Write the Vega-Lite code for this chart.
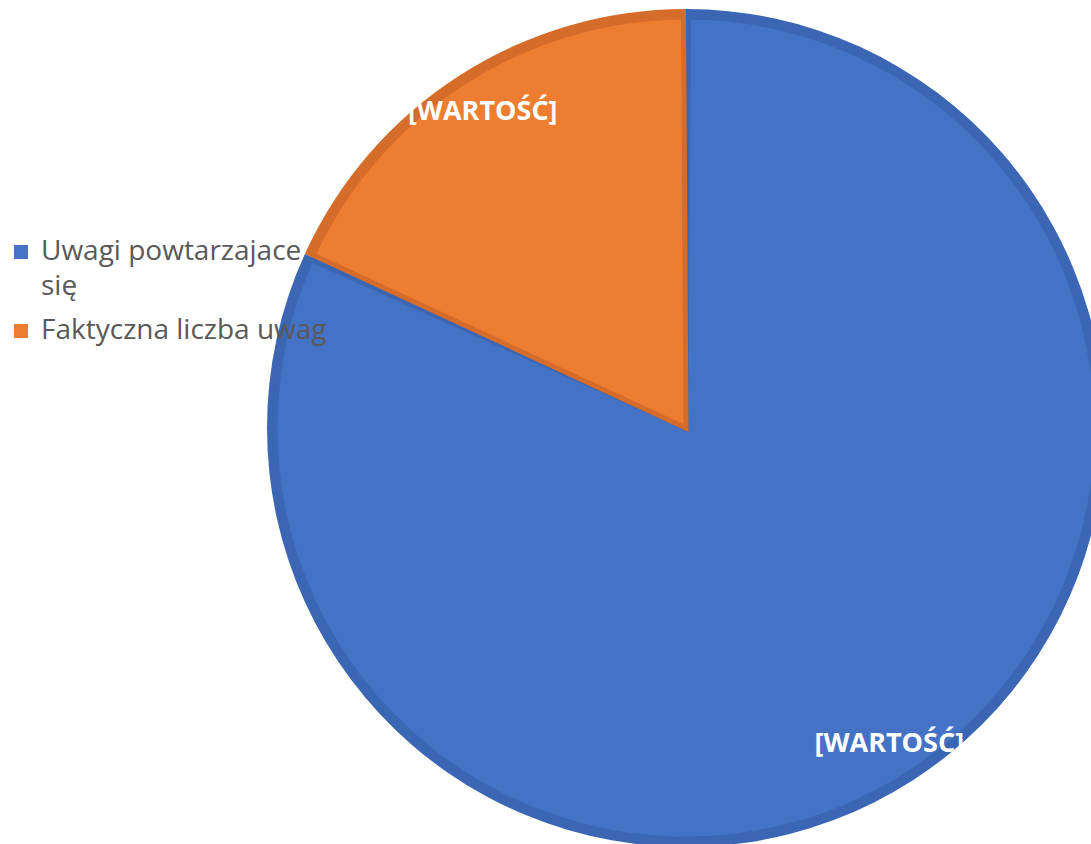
{
  "$schema": "https://vega.github.io/schema/vega-lite/v6.json",
  "width": 1372,
  "height": 856,
  "autosize": {"type": "none"},
  "padding": 0,
  "background": "white",
  "config": {"view": {"stroke": null}, "font": "Open Sans", "style": {"guide-label": {"lineHeight": 35}}},
  "data": {
    "values": [
      {"kategoria": "Uwagi powtarzajace się", "wartosc": 9, "kolejnosc": 1, "etykieta": "[WARTOŚĆ]"},
      {"kategoria": "Faktyczna liczba uwag", "wartosc": 2, "kolejnosc": 2, "etykieta": "[WARTOŚĆ]"}
    ]
  },
  "encoding": {
    "theta": {"field": "wartosc", "type": "quantitative", "stack": true},
    "order": {"field": "kolejnosc", "type": "quantitative"}
  },
  "layer": [
    {
      "mark": {"type": "arc", "outerRadius": 419},
      "encoding": {
        "fill": {
          "field": "kategoria",
          "type": "nominal",
          "sort": ["Uwagi powtarzajace się", "Faktyczna liczba uwag"],
          "scale": {"domain": ["Uwagi powtarzajace się", "Faktyczna liczba uwag"], "range": ["#3B66B3", "#D56C2A"]},
          "legend": null
        }
      }
    },
    {
      "mark": {"type": "arc", "outerRadius": 411, "padAngle": 0.012, "strokeWidth": 5},
      "encoding": {
        "stroke": {
          "field": "kategoria",
          "type": "nominal",
          "sort": ["Uwagi powtarzajace się", "Faktyczna liczba uwag"],
          "scale": {"domain": ["Uwagi powtarzajace się", "Faktyczna liczba uwag"], "range": ["#3B66B3", "#D56C2A"]},
          "legend": null
        },
        "fill": {
          "field": "kategoria",
          "type": "nominal",
          "sort": ["Uwagi powtarzajace się", "Faktyczna liczba uwag"],
          "scale": {"domain": ["Uwagi powtarzajace się", "Faktyczna liczba uwag"], "range": ["#4472C4", "#ED7D31"]},
          "legend": {
            "title": null,
            "orient": "none",
            "legendX": 7,
            "legendY": 238,
            "symbolType": "square",
            "symbolSize": 196,
            "symbolStrokeWidth": 0,
            "labelFontSize": 28,
            "labelColor": "#595959",
            "labelFont": "Open Sans",
            "labelLimit": 600,
            "labelOffset": 6,
            "rowPadding": 16,
            "labelExpr": "datum.label == 'Uwagi powtarzajace się' ? ['Uwagi powtarzajace', 'się'] : datum.label"
          }
        }
      }
    },
    {
      "mark": {"type": "text", "radius": 376, "fill": "white", "font": "Open Sans", "fontWeight": "bold", "fontSize": 27, "align": "center", "baseline": "middle"},
      "encoding": {
        "detail": {"field": "kategoria", "type": "nominal"},
        "text": {"field": "etykieta", "type": "nominal"}
      }
    }
  ],
  "resolve": {"scale": {"fill": "independent"}, "legend": {"fill": "independent"}}
}
